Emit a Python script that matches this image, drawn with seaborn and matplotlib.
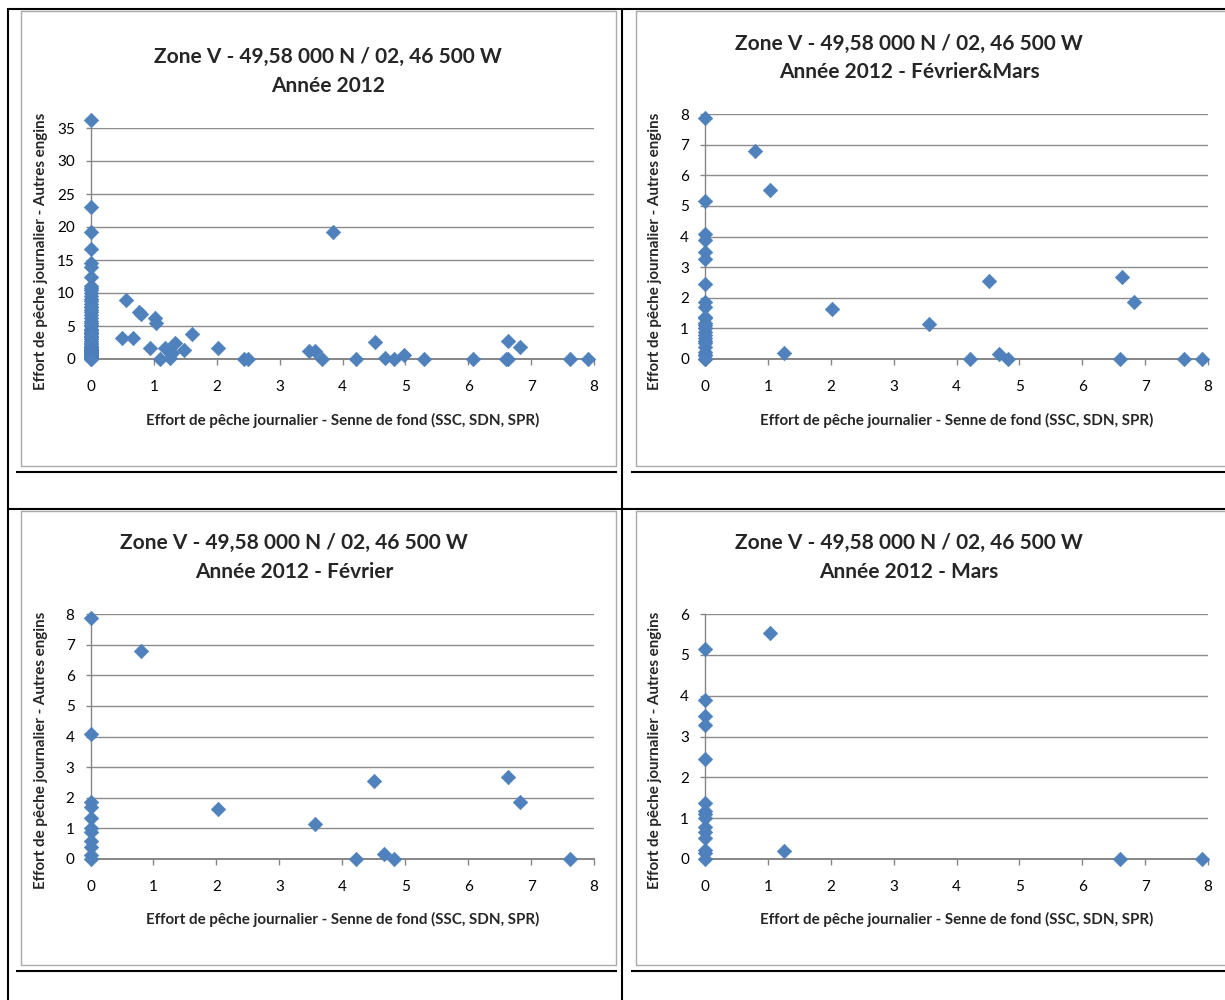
#!/usr/bin/env python3
# effort de peche - zone V, 2012 : 4 nuages de points (annee, fev+mars, fev, mars)

import numpy as np
import pandas as pd
import matplotlib
matplotlib.use("Agg")
import matplotlib.pyplot as plt
import seaborn as sns

# ---------------- data ----------------
# fevrier
feb_senne = [0, 0, 0, 0, 0, 0, 0, 0, 0, 0, 0,
             0.80, 2.02, 3.57, 4.22, 4.51, 4.67, 4.82, 6.63, 6.83, 7.62]
feb_autres = [7.87, 4.07, 1.87, 1.71, 1.35, 1.02, 0.87, 0.59, 0.40, 0.13, 0.0,
              6.80, 1.62, 1.14, 0.0, 2.56, 0.16, 0.0, 2.69, 1.87, 0.0]

# mars
mar_senne = [0, 0, 0, 0, 0, 0, 0, 0, 0, 0, 0, 0, 0, 0, 0,
             1.03, 1.25, 6.60, 7.91]
mar_autres = [5.15, 3.90, 3.49, 3.28, 2.44, 1.38, 1.18, 1.10, 1.00, 0.79, 0.67, 0.51, 0.22, 0.14, 0.0,
              5.53, 0.20, 0.0, 0.0]

# autres mois de l'annee (en plus de fevrier et mars)
oth_senne = [0, 0, 0, 0, 0, 0, 0, 0, 0, 0, 0, 0, 0, 0, 0, 0, 0, 0,
             0, 0, 0, 0, 0, 0, 0, 0, 0, 0, 0, 0, 0, 0, 0, 0, 0, 0,
             0.49, 0.56, 0.67, 0.76, 0.94, 1.01, 1.09, 1.18, 1.29, 1.34, 1.48, 1.60,
             2.44, 2.49, 3.47, 3.68, 3.85, 4.98, 5.30, 6.08, 6.64]
oth_autres = [36.2, 23.1, 19.2, 16.7, 14.6, 14.0, 12.5, 11.1, 10.7, 10.4, 10.0, 9.6,
              9.1, 8.8, 8.3, 7.9, 7.4, 7.1, 6.6, 6.2, 5.8, 5.5, 5.0, 4.6,
              4.4, 3.8, 3.4, 3.0, 2.7, 2.2, 1.9, 1.5, 1.2, 0.8, 0.5, 0.3,
              3.2, 8.9, 3.2, 7.1, 1.7, 6.2, 0.0, 1.6, 0.9, 2.4, 1.3, 3.8,
              0.0, 0.0, 1.2, 0.0, 19.2, 0.55, 0.0, 0.0, 0.0]

TITLE1 = "Zone V - 49,58 000 N / 02, 46 500 W"
subtitles = ["Année 2012", "Année 2012 - Février&Mars", "Année 2012 - Février", "Année 2012 - Mars"]
XLAB = "Effort de pêche journalier - Senne de fond (SSC, SDN, SPR)"
YLAB = "Effort de pêche journalier - Autres engins"
ymax = [35, 8, 8, 6]
ystep = [5, 1, 1, 1]

BLUE = "#4F81BD"
GRAY = "#868686"

W, H = 1225, 1000


def frame(df_x, df_y):
    return pd.DataFrame({"senne": df_x, "autres": df_y})


feb = frame(feb_senne, feb_autres)
mar = frame(mar_senne, mar_autres)
oth = frame(oth_senne, oth_autres)
datasets = [pd.concat([oth, feb, mar], ignore_index=True),
            pd.concat([feb, mar], ignore_index=True),
            feb, mar]

sns.set_style("white")
plt.rcParams["font.family"] = ["Lato", "DejaVu Sans"]

fig = plt.figure(figsize=(W / 100, H / 100), dpi=100)

# ---------------- table + chart frames (pixel coords) ----------------
bg = fig.add_axes([0, 0, 1, 1], zorder=0)
bg.set_xlim(0, W)
bg.set_ylim(H, 0)
bg.axis("off")
for (x0, y0, x1, y1) in [(21, 11, 616, 466), (636, 11, 1235, 466),
                         (21, 511, 616, 965), (636, 511, 1235, 965)]:
    bg.plot([x0, x1, x1, x0, x0], [y0, y0, y1, y1, y0], color="#AAAAAA", lw=1.0)
black = dict(color="black", lw=1.5, solid_capstyle="butt")
bg.plot([7, W], [9, 9], **black)
bg.plot([8, 8], [8, H], **black)
bg.plot([622, 622], [8, H], **black)
bg.plot([16, 617], [472, 472], **black)
bg.plot([631, W], [472, 472], **black)
bg.plot([8, W], [509, 509], **black)
bg.plot([16, 617], [971, 971], **black)
bg.plot([631, W], [971, 971], **black)

# ---------------- panels ----------------
# plot area in pixels: x_left, x_right, y_top, y_bottom
areas = [(91, 594, 128, 359), (705, 1208, 114, 359),
         (90.5, 594, 614, 859), (705, 1208, 614, 859)]
title_pos = [(328, 63.3, 92.3), (909, 50, 78.3), (294, 549.3, 578.3), (909, 549.3, 578.3)]
ylab_x = [41, 655, 41, 655]
ylab_yc = [251, 251, 750, 750]
xlab_base = [425, 425, 924, 924]

for i, df in enumerate(datasets):
    xl, xr, yt, yb = areas[i]
    ax = fig.add_axes([xl / W, 1 - yb / H, (xr - xl) / W, (yb - yt) / H], zorder=2)
    ax.set_facecolor("none")

    sns.scatterplot(data=df, x="senne", y="autres", ax=ax, marker="D", s=55,
                    color=BLUE, edgecolor="#4A7EBB", linewidth=0.4,
                    clip_on=False, zorder=5)

    ax.set_xlim(0, 8)
    ax.set_ylim(0, ymax[i])
    ax.set_xticks(np.arange(0, 9, 1))
    ax.set_yticks(np.arange(0, ymax[i] + ystep[i], ystep[i]))
    ax.yaxis.grid(True, color="#8C8C8C", lw=1.0)
    ax.xaxis.grid(False)
    ax.set_axisbelow(True)

    for s in ["top", "right"]:
        ax.spines[s].set_visible(False)
    ax.spines["left"].set_color(GRAY)
    ax.spines["left"].set_linewidth(1.0)
    ax.spines["bottom"].set_color(GRAY)
    ax.spines["bottom"].set_linewidth(1.4)

    ax.tick_params(axis="x", direction="out", length=4.3, width=1.0, color=GRAY,
                   pad=11, labelsize=11, labelcolor="black", bottom=True)
    ax.tick_params(axis="y", direction="out", length=3.5, width=1.0, color=GRAY,
                   pad=8, labelsize=11, labelcolor="black", left=True)

    ax.set_xlabel(XLAB, fontsize=10.9, fontweight="bold", va="baseline")
    ax.xaxis.set_label_coords(0.5, (yb - xlab_base[i]) / (yb - yt))
    ax.set_ylabel(YLAB, fontsize=10.9, fontweight="bold", va="center", ha="center")
    ax.yaxis.set_label_coords((ylab_x[i] - xl) / (xr - xl), (yb - ylab_yc[i]) / (yb - yt))

    cx, b1, b2 = title_pos[i]
    fig.text(cx / W, 1 - b1 / H, TITLE1, ha="center", va="baseline",
             fontsize=15, fontweight="bold")
    fig.text(cx / W, 1 - b2 / H, subtitles[i], ha="center", va="baseline",
             fontsize=15, fontweight="bold")

fig.savefig("out.png", dpi=100)
